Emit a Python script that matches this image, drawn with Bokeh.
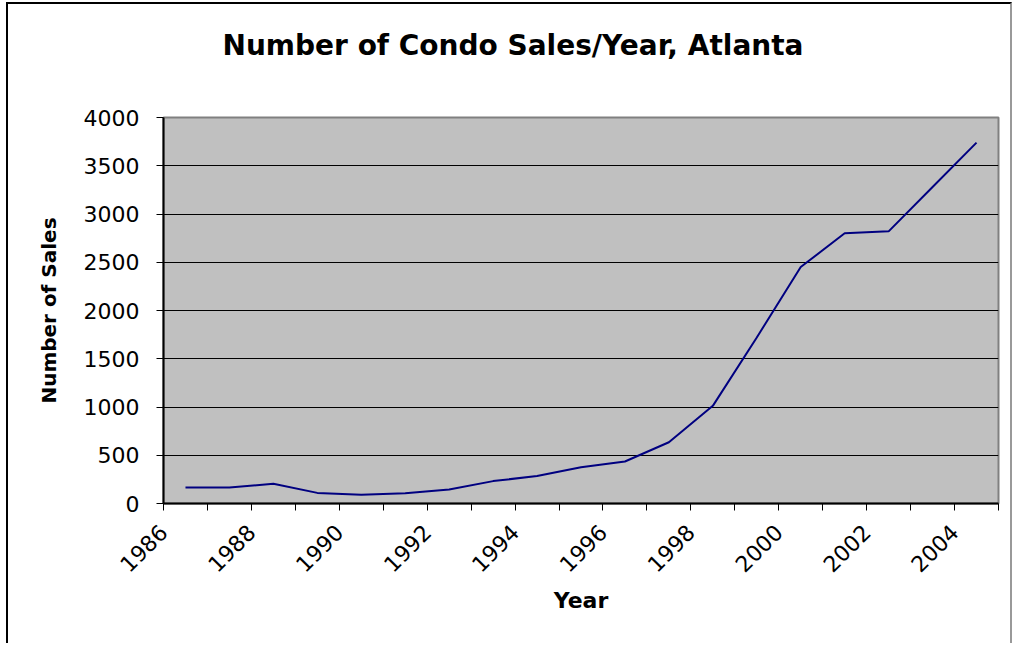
import math
from bokeh.plotting import figure
from bokeh.models import FixedTicker, Title, ColumnDataSource
from bokeh.embed import file_html
from bokeh.resources import INLINE

years = [1986, 1987, 1988, 1989, 1990, 1991, 1992, 1993, 1994, 1995,
         1996, 1997, 1998, 1999, 2000, 2001, 2002, 2003, 2004]
sales = [165, 165, 205, 110, 90, 105, 145, 232, 285, 375,
         435, 635, 1012, 1720, 2450, 2800, 2820, 3280, 3740]
y_ticks = [0, 500, 1000, 1500, 2000, 2500, 3000, 3500, 4000]
tick_years = list(range(1986, 2006))
label_years = [y for y in tick_years if y % 2 == 0 and y <= 2004]
title_text = "Number of Condo Sales/Year, Atlanta"

# categories are centred between ticks
xs = [y + 0.5 for y in years]
src = ColumnDataSource(dict(x=xs, y=sales))

p = figure(width=1006, height=641, output_backend="svg", toolbar_location=None,
           x_range=(1986, 2005), y_range=(0, 4000),
           min_border_left=155, min_border_right=16, min_border_top=113, min_border_bottom=142)
p.styles = {"margin-left": "6px", "margin-top": "2px",
            "border-left": "2px solid black", "border-top": "2px solid black",
            "border-right": "2px solid #999999"}

p.title = None
# spacer between the title and the plot area
p.add_layout(Title(text=" ", text_font_size="49px", standoff=0), "above")
p.add_layout(Title(text=title_text, align="left", offset=59, standoff=0,
                   text_font="DejaVu Sans", text_font_size="28px", text_font_style="bold",
                   text_color="black"), "above")

p.background_fill_color = "#C0C0C0"
p.border_fill_color = "white"
p.outline_line_color = "#808080"
p.outline_line_width = 2

p.line("x", "y", source=src, line_color="#000080", line_width=2)

p.xgrid.visible = False
p.ygrid.ticker = FixedTicker(ticks=y_ticks)
p.ygrid.grid_line_color = "black"
p.ygrid.grid_line_width = 1

p.yaxis.ticker = FixedTicker(ticks=y_ticks)
p.xaxis.ticker = FixedTicker(ticks=tick_years)
p.xaxis.major_label_overrides = {y: (str(y) if y in label_years else "") for y in tick_years}
p.xaxis.major_label_orientation = math.pi / 4

for ax in (p.xaxis[0], p.yaxis[0]):
    ax.axis_line_color = "black"
    ax.axis_line_width = 2
    ax.major_tick_line_color = "black"
    ax.major_tick_line_width = 1
    ax.major_tick_out = 7
    ax.major_tick_in = 0
    ax.minor_tick_line_color = None
    ax.major_label_text_font = "DejaVu Sans"
    ax.major_label_text_font_size = "22px"
    ax.major_label_text_color = "black"
    ax.axis_label_text_font = "DejaVu Sans"
    ax.axis_label_text_font_style = "bold"
    ax.axis_label_text_color = "black"

p.yaxis.major_label_standoff = 17
p.xaxis.major_label_standoff = 18
p.yaxis.axis_label = "Number of Sales"
p.yaxis.axis_label_text_font_size = "20px"
p.yaxis.axis_label_standoff = 20
p.xaxis.axis_label = "Year"
p.xaxis.axis_label_text_font_size = "22px"
p.xaxis.axis_label_standoff = 6

open("out.html", "w").write(file_html(p, INLINE))
